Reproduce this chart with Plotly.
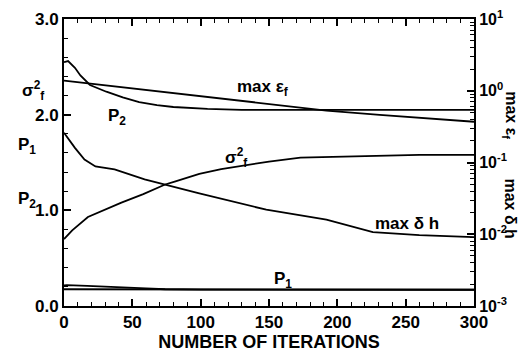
import plotly.graph_objects as go

# ---- data ----
iters_p2 = [0, 3, 8, 12, 19, 31, 43, 55, 68, 80, 105, 130, 200, 300]
p2 = [2.55, 2.56, 2.49, 2.41, 2.31, 2.24, 2.18, 2.13, 2.10, 2.08, 2.06, 2.05, 2.05, 2.05]

iters_eps = [0, 100, 129, 192, 231, 300]
max_eps = [1.38, 0.83, 0.73, 0.53, 0.46, 0.37]

iters_sig = [0, 6, 17.5, 30, 42, 58, 74, 81, 99, 115, 131, 150, 173, 221, 260, 300]
sigma2 = [0.70, 0.79, 0.93, 1.01, 1.08, 1.17, 1.27, 1.30, 1.38, 1.43, 1.47, 1.51, 1.55, 1.57, 1.58, 1.58]

iters_dh = [0, 8, 15, 23, 37, 59, 74, 81, 99, 148, 192, 226, 260, 300]
max_dh = [0.26, 0.16, 0.11, 0.088, 0.080, 0.058, 0.049, 0.045, 0.037, 0.022, 0.016, 0.0107, 0.0097, 0.0091]

iters_p1 = [0, 2, 17, 42, 60, 74, 100, 300]
p1 = [0.215, 0.218, 0.21, 0.20, 0.185, 0.175, 0.172, 0.17]

iters_p1ref = [0, 300]
p1_ref = [0.175, 0.17]

x_ticks = [0, 50, 100, 150, 200, 250, 300]
y_left_ticks = [0.0, 1.0, 2.0, 3.0]
y_right_ticks = [0.001, 0.01, 0.1, 1, 10]
y_right_text = ["10<sup>-3</sup>", "10<sup>-2</sup>", "10<sup>-1</sup>", "10<sup>0</sup>", "10<sup>1</sup>"]

FONT = "Liberation Sans, Arial, sans-serif"
line = dict(color="black", width=1.8)

fig = go.Figure()
fig.add_trace(go.Scatter(x=iters_p2, y=p2, mode="lines", line=line, yaxis="y"))
fig.add_trace(go.Scatter(x=iters_sig, y=sigma2, mode="lines", line=line, yaxis="y"))
fig.add_trace(go.Scatter(x=iters_p1, y=p1, mode="lines", line=line, yaxis="y"))
fig.add_trace(go.Scatter(x=iters_p1ref, y=p1_ref, mode="lines", line=line, yaxis="y"))
fig.add_trace(go.Scatter(x=iters_eps, y=max_eps, mode="lines", line=line, yaxis="y2"))
fig.add_trace(go.Scatter(x=iters_dh, y=max_dh, mode="lines", line=line, yaxis="y2"))

tfont = dict(family=FONT, size=17, color="black", weight="bold")
tfont_r = dict(family=FONT, size=16, color="black", weight="bold")

fig.update_layout(
    width=529, height=353,
    margin=dict(l=56, r=63, t=11, b=55, autoexpand=False),
    paper_bgcolor="white", plot_bgcolor="white",
    showlegend=False,
    font=dict(family=FONT, size=16, color="black"),
    xaxis=dict(
        range=[0, 300], tickvals=x_ticks, ticks="inside", ticklen=7, tickwidth=1.5, tickcolor="black",
        showline=True, linecolor="black", linewidth=2, mirror="ticks",
        showgrid=False, zeroline=False, automargin=False, ticklabeloverflow="allow",
        minor=dict(dtick=10, ticks="inside", ticklen=4, tickwidth=1, tickcolor="black", showgrid=False),
        title=dict(text="NUMBER OF ITERATIONS", font=dict(family=FONT, size=18, weight="bold"), standoff=2),
        tickfont=tfont,
    ),
    yaxis=dict(
        range=[0, 3], tickvals=y_left_ticks, tickformat=".1f", ticks="inside", ticklen=7, tickwidth=1.5,
        tickcolor="black", ticklabeloverflow="allow",
        showline=True, linecolor="black", linewidth=2, mirror=True,
        showgrid=False, zeroline=False, automargin=False,
        minor=dict(dtick=0.2, ticks="inside", ticklen=4, tickwidth=1, tickcolor="black", showgrid=False),
        tickfont=tfont,
    ),
    yaxis2=dict(
        type="log", range=[-3, 1], overlaying="y", side="right",
        tickvals=y_right_ticks, ticktext=y_right_text, ticks="inside", ticklen=7, tickwidth=1.5,
        tickcolor="black", ticklabeloverflow="allow",
        showline=True, linecolor="black", linewidth=2,
        showgrid=False, zeroline=False, automargin=False,
        minor=dict(dtick="D1", ticks="inside", ticklen=4, tickwidth=1, tickcolor="black", showgrid=False),
        tickfont=tfont_r,
    ),
)

ann_font = dict(family=FONT, size=17, color="black", weight="bold")
rfont = dict(family=FONT, size=16, color="black", weight="bold")
# curve labels (data coords)
fig.add_annotation(x=145, y=2.28, xref="x", yref="y", text="max ε<sub>f</sub>", showarrow=False, font=ann_font)
fig.add_annotation(x=126, y=1.55, xref="x", yref="y", text="σ<sup>2</sup><sub>f</sub>", showarrow=False, font=ann_font)
fig.add_annotation(x=251, y=0.86, xref="x", yref="y", text="max δ h", showarrow=False, font=ann_font)
fig.add_annotation(x=39, y=1.98, xref="x", yref="y", text="P<sub>2</sub>", showarrow=False, font=ann_font)
fig.add_annotation(x=160, y=0.27, xref="x", yref="y", text="P<sub>1</sub>", showarrow=False, font=ann_font)

# left axis titles
fig.add_annotation(x=-0.107, y=0.80, xref="paper", yref="paper", text="σ<sup>2</sup><sub>f</sub>", showarrow=False, font=ann_font)
fig.add_annotation(x=-0.117, y=0.557, xref="paper", yref="paper", text="P<sub>1</sub>", showarrow=False, font=ann_font)
fig.add_annotation(x=-0.117, y=0.369, xref="paper", yref="paper", text="P<sub>2</sub>", showarrow=False, font=ann_font)
# right axis titles
fig.add_annotation(x=1.115, y=0.666, xref="paper", yref="paper", text="max ε<sub>f</sub>", textangle=90, showarrow=False, font=rfont)
fig.add_annotation(x=1.115, y=0.341, xref="paper", yref="paper", text="max δ h", textangle=90, showarrow=False, font=rfont)

fig.write_html("out.html")
